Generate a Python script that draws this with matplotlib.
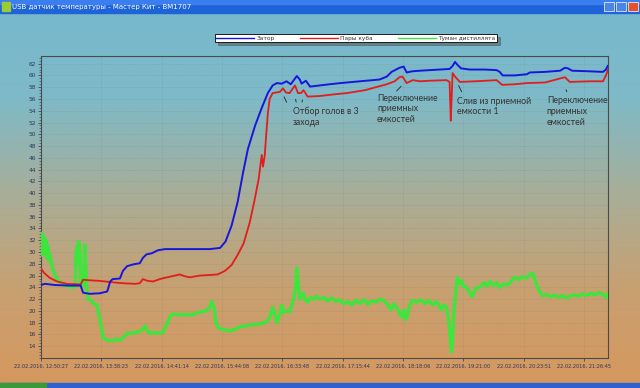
import numpy as np
import matplotlib
matplotlib.use('Agg')
import matplotlib.pyplot as plt
from matplotlib.patches import Rectangle
from matplotlib.ticker import MultipleLocator

# Подписи оси времени (ось идёт по номеру отсчёта, 100 отсчётов на деление)
tick_idx = [0, 100, 200, 300, 400, 500, 600, 700, 800, 900]
tick_labels = ['22.02.2016, 12:50:27', '22.02.2016, 13:38:23', '22.02.2016, 14:41:14',
               '22.02.2016, 15:44:08', '22.02.2016, 16:33:48', '22.02.2016, 17:15:44',
               '22.02.2016, 18:18:06', '22.02.2016, 19:21:00', '22.02.2016, 20:23:51',
               '22.02.2016, 21:26:45']

# Затор
zator_x = [0, 7, 23, 48, 66, 70, 81, 98, 110, 115, 119, 131, 136, 143, 153, 164, 169, 175,
           184, 194, 206, 247, 280, 297, 306, 316, 326, 335, 343, 355, 366, 376, 384, 391,
           399, 407, 414, 424, 429, 432, 439, 446, 462, 487, 507, 528, 561, 573, 581, 594,
           601, 606, 615, 628, 644, 661, 677, 682, 686, 690, 696, 710, 735, 755, 760, 765,
           785, 805, 810, 835, 860, 868, 873, 880, 909, 931, 936, 939]
zator_y = [24.4, 24.6, 24.4, 24.3, 24.3, 23.1, 22.9, 23.0, 23.3, 25.0, 25.4, 25.5, 26.8,
           27.6, 27.9, 28.1, 29.0, 29.6, 29.8, 30.3, 30.5, 30.5, 30.5, 30.7, 31.8, 34.5,
           38.5, 43.5, 47.5, 51.5, 54.5, 57.0, 58.3, 58.7, 58.6, 59.0, 58.5, 59.9, 59.3,
           58.6, 59.1, 58.1, 58.3, 58.6, 58.8, 59.0, 59.3, 59.8, 60.6, 61.3, 61.5, 60.5,
           60.7, 60.8, 60.9, 61.0, 61.1, 61.6, 62.3, 61.8, 61.2, 61.0, 61.0, 60.9, 60.6,
           60.0, 60.0, 60.2, 60.5, 60.6, 60.8, 61.3, 61.2, 60.8, 60.7, 60.6, 61.0, 61.6]

# Пары куба
pary_x = [0, 5, 15, 27, 43, 66, 70, 81, 98, 115, 136, 156, 164, 169, 177, 186, 197, 209,
          222, 230, 238, 247, 263, 280, 293, 305, 316, 326, 336, 346, 354, 361, 364, 366,
          368, 371, 373, 376, 379, 384, 396, 401, 406, 412, 421, 426, 431, 435, 442, 462,
          487, 507, 537, 573, 586, 594, 599, 606, 616, 628, 644, 672, 677, 679, 680, 682,
          686, 694, 719, 755, 764, 785, 805, 835, 868, 876, 909, 931, 936, 939]
pary_y = [27.3, 26.5, 25.6, 25.0, 24.6, 24.5, 25.3, 25.2, 25.1, 24.9, 24.7, 24.6, 24.7,
          25.4, 25.1, 25.0, 25.4, 25.7, 26.0, 26.2, 25.9, 25.7, 26.0, 26.1, 26.2, 26.8,
          27.8, 29.5, 31.5, 35.0, 38.8, 42.5, 45.0, 46.5, 44.5, 46.5, 49.5, 53.5, 56.0,
          57.0, 57.2, 57.8, 57.1, 57.0, 58.3, 57.0, 57.0, 57.5, 56.4, 56.5, 56.8, 57.0,
          57.5, 58.5, 59.0, 59.7, 59.8, 58.7, 59.2, 59.0, 59.1, 59.2, 58.9, 52.3, 55.0,
          60.4, 59.8, 58.9, 59.0, 59.2, 58.4, 58.5, 58.7, 58.8, 59.7, 58.9, 59.0, 59.0,
          60.0, 60.9]

# Туман дистиллята
tuman_x = [0, 2, 4, 5, 7, 9, 10, 12, 14, 15, 20, 27, 35, 43, 53, 57, 58, 60, 61, 63, 65,
           66, 71, 73, 75, 76, 78, 83, 88, 93, 98, 103, 110, 118, 126, 131, 138, 143, 151,
           159, 166, 171, 173, 177, 181, 189, 197, 202, 209, 215, 220, 230, 240, 250, 257,
           263, 272, 280, 283, 287, 290, 293, 303, 313, 322, 330, 346, 363, 373, 379, 384,
           388, 391, 396, 399, 402, 407, 412, 416, 419, 422, 424, 427, 429, 432, 435, 439,
           442, 447, 452, 457, 462, 469, 475, 482, 489, 495, 502, 508, 515, 522, 528, 535,
           542, 548, 555, 561, 568, 575, 580, 585, 590, 594, 598, 601, 604, 608, 611, 616,
           623, 630, 636, 643, 649, 656, 663, 668, 672, 676, 679, 680, 682, 684, 687, 690,
           694, 697, 700, 705, 711, 715, 720, 727, 734, 739, 744, 750, 755, 760, 767, 774,
           780, 785, 792, 798, 805, 810, 815, 818, 821, 826, 831, 838, 845, 851, 858, 864,
           871, 878, 884, 891, 897, 904, 911, 917, 924, 931, 936, 939]
tuman_y = [29.5, 33.2, 30.0, 32.5, 29.5, 32.0, 29.0, 31.0, 28.5, 29.5, 27.0, 25.4, 24.6,
           24.2, 24.0, 24.2, 29.5, 31.0, 28.0, 31.8, 30.0, 24.2, 24.4, 31.2, 26.0, 23.5,
           22.0, 21.8, 21.2, 21.0, 18.5, 15.5, 15.0, 14.9, 15.2, 15.0, 15.6, 16.2, 16.2,
           16.4, 16.6, 17.1, 17.4, 16.6, 16.2, 16.3, 16.2, 16.3, 17.8, 19.2, 19.5, 19.3,
           19.4, 19.3, 19.6, 19.8, 19.9, 20.6, 21.6, 20.5, 18.0, 17.2, 16.8, 16.6, 16.9,
           17.3, 17.6, 17.8, 18.1, 18.8, 20.6, 19.3, 18.0, 19.5, 21.0, 19.8, 20.0, 19.8,
           21.0, 22.3, 24.0, 27.3, 24.0, 22.0, 22.6, 23.0, 21.7, 21.5, 22.3, 22.0, 22.5,
           22.0, 22.3, 21.7, 22.2, 21.6, 21.9, 21.2, 21.6, 21.0, 21.8, 21.3, 21.9, 21.1,
           21.7, 21.5, 22.0, 21.8, 21.0, 20.2, 21.2, 20.4, 19.6, 19.0, 20.2, 18.5, 19.5,
           21.0, 21.8, 21.5, 21.9, 21.2, 21.8, 21.0, 21.6, 20.2, 21.0, 20.6, 18.0, 14.5,
           13.0, 15.0, 19.5, 23.0, 25.7, 24.6, 25.1, 24.2, 24.0, 23.0, 22.4, 23.8, 24.0,
           24.8, 24.2, 25.0, 24.3, 24.8, 24.0, 24.6, 24.4, 25.2, 25.7, 25.3, 25.8, 25.6,
           26.2, 26.4, 25.4, 24.5, 23.3, 22.6, 22.8, 22.4, 22.7, 22.3, 22.6, 22.2, 22.6,
           22.7, 22.5, 22.9, 22.6, 23.0, 22.7, 23.1, 22.8, 22.3, 22.9]

fig = plt.figure(figsize=(6.4, 3.88), dpi=100)

# фон окна - градиент от голубого к оранжевому
bg = fig.add_axes([0, 0, 1, 1], zorder=0)
stops = np.array([[118, 184, 206], [126, 186, 200], [168, 174, 152],
                  [200, 160, 112], [214, 152, 94]]) / 255.0
t = np.linspace(0, 1, 388)
grad = np.stack([np.interp(t, np.linspace(0, 1, len(stops)), stops[:, k]) for k in range(3)], axis=1)
bg.imshow(grad[:, None, :], aspect='auto', extent=[0, 640, 388, 0])
bg.set_xlim(0, 640)
bg.set_ylim(388, 0)
bg.axis('off')

# заголовок окна
bg.add_patch(Rectangle((0, 0), 640, 13, color='#1f63d8'))
bg.add_patch(Rectangle((0, 0), 640, 4, color='#3a7ef0'))
bg.add_patch(Rectangle((2, 2), 8, 9, color='#9acd32'))
bg.text(12, 6.5, 'USB датчик температуры - Мастер Кит - ВМ1707', color='white',
        fontsize=5.0, va='center', ha='left')
bg.add_patch(Rectangle((604, 2), 10, 9, color='#4a86e8', ec='white', lw=0.5))
bg.add_patch(Rectangle((616, 2), 10, 9, color='#4a86e8', ec='white', lw=0.5))
bg.add_patch(Rectangle((628, 2), 10, 9, color='#e0532e', ec='white', lw=0.5))
# панель задач
bg.add_patch(Rectangle((0, 383), 640, 5, color='#2f62d0'))
bg.add_patch(Rectangle((0, 383), 46, 5, color='#3a9a3a'))

ax = fig.add_axes([40.8 / 640, 30 / 388, (608 - 40.8) / 640, (358 - 56) / 388], zorder=2)
ax.set_facecolor('none')

ax.plot(tuman_x, tuman_y, color='#3de63d', lw=2.4, label='Туман дистиллята', zorder=3)
ax.plot(pary_x, pary_y, color='#e31c1c', lw=1.3, label='Пары куба', zorder=4)
ax.plot(zator_x, zator_y, color='#1717dc', lw=1.4, label='Затор', zorder=5)

ax.set_xlim(0, 939.4)
ax.set_ylim(12, 63.3)
ax.set_xticks(tick_idx)
ax.set_xticklabels(tick_labels)
ax.set_yticks(np.arange(14, 63, 2))
ax.yaxis.set_minor_locator(MultipleLocator(0.5))
ax.tick_params(axis='both', labelsize=4.2, colors='#2e3458', length=2, width=0.5, pad=1.5)
ax.tick_params(axis='x', labelsize=3.6, pad=2)
ax.tick_params(axis='y', which='minor', length=1.2, width=0.4, color='#3a3a5a')
ax.grid(True, color='#707070', ls=':', lw=0.5, alpha=0.35)
for s in ax.spines.values():
    s.set_color('#4a4a4a')
    s.set_linewidth(0.8)

# подписи событий
tkw = dict(fontsize=6.3, color='#333333', family='Lato', va='top', ha='left', linespacing=1.25)
lkw = dict(arrowstyle='-', color='#222222', lw=0.6)
ax.text(417, 54.7, 'Отбор голов в 3\nзахода', **tkw)
ax.annotate('', xy=(401, 56.8), xytext=(409, 55.0), arrowprops=lkw)
ax.annotate('', xy=(421, 56.4), xytext=(424, 55.0), arrowprops=lkw)
ax.annotate('', xy=(434, 56.3), xytext=(432, 55.0), arrowprops=lkw)
ax.text(557, 56.9, 'Переключение\nприемных\nемкостей', **tkw)
ax.annotate('', xy=(600, 58.5), xytext=(586, 57.0), arrowprops=lkw)
ax.text(690, 56.4, 'Слив из приемной\nемкости 1', **tkw)
ax.annotate('', xy=(690, 58.7), xytext=(699, 56.8), arrowprops=lkw)
ax.text(838, 56.5, 'Переключение\nприемных\nемкостей', **tkw)
ax.annotate('', xy=(868, 58.0), xytext=(873, 56.8), arrowprops=lkw)

# легенда
h, l = ax.get_legend_handles_labels()
order = [2, 1, 0]
leg = fig.legend([h[i] for i in order], [l[i] for i in order],
                 bbox_to_anchor=(215 / 640, (388 - 42) / 388, 282 / 640, 9 / 388),
                 loc='lower left', mode='expand', ncol=3, fontsize=4.2,
                 handlelength=6.5, handletextpad=0.4, borderpad=0.25, borderaxespad=0,
                 fancybox=False, shadow=True, framealpha=1, edgecolor='black')
leg.get_frame().set_linewidth(0.6)
for line in leg.get_lines():
    line.set_linewidth(1.0)
for txt in leg.get_texts():
    txt.set_color('#333333')

fig.savefig('out.png', dpi=100)
